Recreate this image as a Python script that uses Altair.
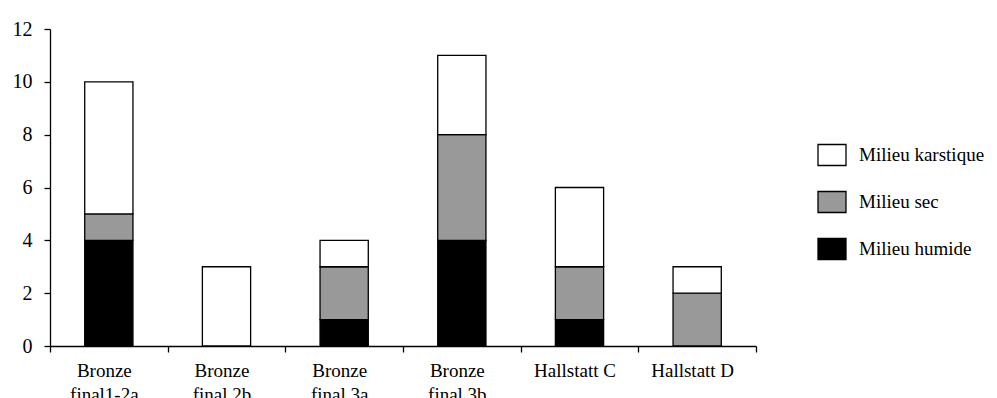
import altair as alt
import pandas as pd

categories = ["Bronze\nfinal1-2a", "Bronze\nfinal 2b", "Bronze\nfinal 3a",
              "Bronze\nfinal 3b", "Hallstatt C", "Hallstatt D"]
series = ["Milieu karstique", "Milieu sec", "Milieu humide"]
humide = [4, 0, 1, 4, 1, 0]
sec = [1, 0, 2, 4, 2, 2]
karstique = [5, 3, 1, 3, 3, 1]
colors = ["#ffffff", "#999999", "#000000"]

rows = []
for i, c in enumerate(categories):
    rows.append({"cat": c, "serie": "Milieu humide", "val": humide[i], "rk": 0})
    rows.append({"cat": c, "serie": "Milieu sec", "val": sec[i], "rk": 1})
    rows.append({"cat": c, "serie": "Milieu karstique", "val": karstique[i], "rk": 2})
df = pd.DataFrame(rows)

FONT = "Liberation Serif"

chart = alt.Chart(df).mark_bar(
    width=alt.RelativeBandSize(0.41), stroke="black", strokeWidth=1.3
).encode(
    x=alt.X("cat:N", sort=categories, title=None,
            scale=alt.Scale(paddingInner=0, paddingOuter=0),
            axis=alt.Axis(labelAngle=0, tickBand="extent",
                          labelExpr="datum.value ? split(datum.value, '\\n') : ''",
                          labelFont=FONT, labelFontSize=19, labelColor="black",
                          labelLineHeight=24, labelPadding=9, labelOffset=-5, tickSize=6,
                          domainColor="black", tickColor="black", domainWidth=1.3, tickWidth=1.3)),
    y=alt.Y("val:Q", stack="zero", title=None,
            scale=alt.Scale(domain=[0, 12], nice=False),
            axis=alt.Axis(values=[0, 2, 4, 6, 8, 10, 12], grid=False, labelFont=FONT,
                          labelFontSize=20, labelColor="black", labelPadding=12, tickSize=6,
                          labelBaseline="middle",
                          domainColor="black", tickColor="black", domainWidth=1.3, tickWidth=1.3)),
    color=alt.Color("serie:N", title=None,
                    scale=alt.Scale(domain=series, range=colors),
                    legend=alt.Legend(orient="none", legendX=767, legendY=111,
                                      symbolType="M-1,-0.75L1,-0.75L1,0.75L-1,0.75Z",
                                      symbolSize=784, symbolStrokeColor="black",
                                      symbolStrokeWidth=1.3, symbolOpacity=1,
                                      labelFont=FONT, labelFontSize=19, labelColor="black",
                                      labelOffset=12, rowPadding=18, padding=0)),
    order=alt.Order("rk:Q", sort="ascending"),
).properties(
    width=706, height=317,
    autosize=alt.AutoSizeParams(type="none"),
    padding={"left": 42, "top": 21, "right": 233, "bottom": 52},
).configure_view(stroke=None).configure_axisX(labelBaseline="top")

chart.save("out.html", embed_options={"renderer": "svg", "actions": False})
